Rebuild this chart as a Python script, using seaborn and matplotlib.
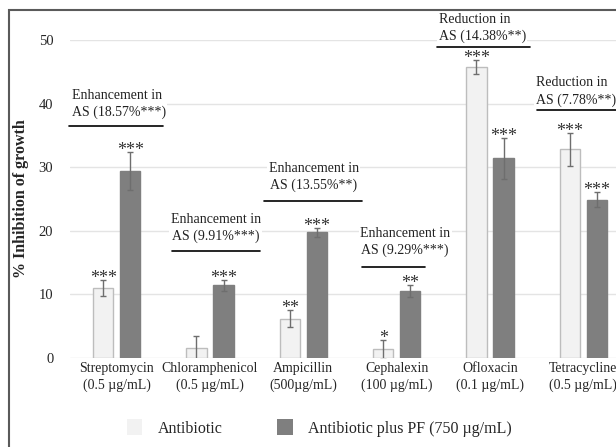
import pandas as pd
import matplotlib
matplotlib.use("Agg")
import matplotlib.pyplot as plt
from matplotlib.patches import Rectangle, Patch
import seaborn as sns

# data
drugs = ["Streptomycin", "Chloramphenicol", "Ampicillin", "Cephalexin", "Ofloxacin", "Tetracycline"]
doses = ["(0.5 µg/mL)", "(0.5 µg/mL)", "(500µg/mL)", "(100 µg/mL)", "(0.1 µg/mL)", "(0.5 µg/mL)"]
groups = ["Antibiotic", "Antibiotic plus PF (750 µg/mL)"]
antibiotic = [11.0, 1.5, 6.2, 1.4, 45.8, 32.8]
antibiotic_err = [1.2, 1.9, 1.3, 1.5, 1.1, 2.6]
combo = [29.4, 11.4, 19.8, 10.5, 31.4, 24.9]
combo_err = [3.0, 0.8, 0.7, 0.9, 3.2, 1.2]
stars_antibiotic = ["***", "", "**", "*", "***", "***"]
stars_combo = ["***", "***", "***", "**", "***", "***"]
notes = ["Enhancement in\nAS (18.57%***)", "Enhancement in\nAS (9.91%***)",
         "Enhancement in\nAS (13.55%**)", "Enhancement in\nAS (9.29%***)",
         "Reduction in\nAS (14.38%**)", "Reduction in\nAS (7.78%**)"]

# where the notes sit (x, y, align) and their underline (x0, x1, y)
note_pos = [(-0.48, 39.9, "left"), (1.06, 20.4, "center"), (2.11, 28.4, "center"),
            (3.09, 18.2, "center"), (3.45, 51.9, "left"), (4.49, 41.9, "left")]
note_line = [(-0.51, 0.50, 36.5), (0.59, 1.54, 16.8), (1.58, 2.63, 24.7),
             (2.63, 3.30, 14.3), (3.43, 4.43, 48.9), (4.50, 5.60, 39.0)]

df = pd.DataFrame({
    "drug": drugs * 2,
    "group": [groups[0]] * 6 + [groups[1]] * 6,
    "value": antibiotic + combo,
})

sns.set_style("white")
plt.rcParams["font.family"] = ["Liberation Serif", "DejaVu Serif"]

fig = plt.figure(figsize=(6.16, 4.47), dpi=100)
W, H = 616, 447
ax = fig.add_axes([70 / W, (H - 358) / H, 560 / W, 318 / H])

light, dark = "#f2f2f2", "#7f7f7f"
sns.barplot(data=df, x="drug", y="value", hue="group", palette=[light, dark],
            width=0.58, gap=0.24, errorbar=None, ax=ax, legend=False)

for bar in ax.containers[0]:
    bar.set_edgecolor("#bdbdbd")
    bar.set_linewidth(1.0)
for bar in ax.containers[1]:
    bar.set_edgecolor(dark)

# annotation boxes (drawn under the stars)
for txt, (x, y, ha), (x0, x1, yl) in zip(notes, note_pos, note_line):
    ax.text(x, y, txt, ha=ha, va="center", fontsize=10, color="#222222", linespacing=1.35,
            bbox=dict(facecolor="white", edgecolor="none", pad=1), zorder=3)
    ax.plot([x0, x1], [yl, yl], color="black", lw=1.2, clip_on=False, zorder=4)

# error bars and significance stars
for cont, errs, stars in [(ax.containers[0], antibiotic_err, stars_antibiotic),
                          (ax.containers[1], combo_err, stars_combo)]:
    xs = [b.get_x() + b.get_width() / 2 for b in cont]
    ys = [b.get_height() for b in cont]
    ax.errorbar(xs, ys, yerr=errs, fmt="none", ecolor="#6e6e6e", elinewidth=1, capsize=2.5, capthick=1)
    for x, y, e, s in zip(xs, ys, errs, stars):
        if s:
            ax.text(x, y + e - 1.1, s, ha="center", va="bottom", fontsize=13, color="#333333", zorder=6)

ax.set_xlim(-0.5, 5.5)
ax.set_ylim(0, 50)
ax.set_yticks([0, 10, 20, 30, 40, 50])
ax.set_xticks(range(6))
ax.set_xticklabels([d + "\n" + c for d, c in zip(drugs, doses)], fontsize=10, linespacing=1.3)
ax.tick_params(axis="y", length=0, pad=12, labelsize=10.5)
ax.tick_params(axis="x", length=0, pad=3)
ax.yaxis.grid(True, color="#e4e4e4", lw=1)
ax.set_axisbelow(True)
for s in ax.spines.values():
    s.set_visible(False)
ax.set_xlabel("")
ax.set_ylabel("")

fig.text(21 / W, 1 - 199 / H, "% Inhibition of growth", rotation=90, ha="center", va="center",
         fontsize=11.5, fontweight="bold")

handles = [Patch(facecolor=light, edgecolor="none"), Patch(facecolor=dark, edgecolor="none")]
fig.legend(handles, groups, loc="center left", bbox_to_anchor=(127 / W, 1 - 428 / H), ncol=2,
           frameon=False, fontsize=11.5, handlelength=0.95, handleheight=1.1, handletextpad=1.0,
           columnspacing=3.4, borderpad=0, borderaxespad=0)

fig.add_artist(Rectangle((9 / W, -0.1), 1.2, 1.1 - 10 / H, transform=fig.transFigure,
                         fill=False, edgecolor="#5a5a5a", lw=1.5))

fig.savefig("out.png", dpi=100)
